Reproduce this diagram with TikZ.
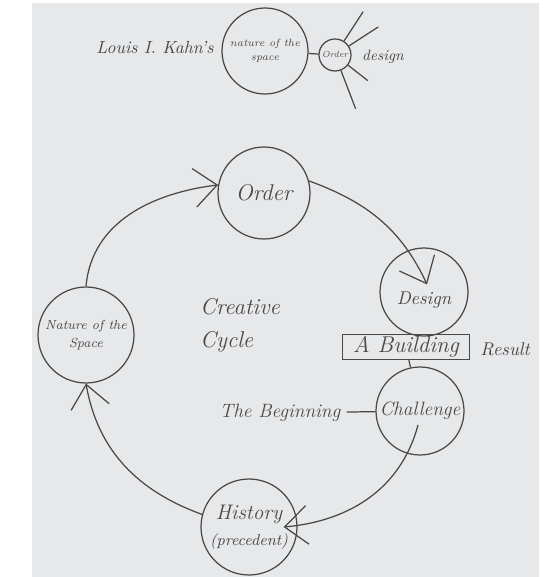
\documentclass[tikz,border=0pt]{standalone}
\usepackage{fontspec}
\usetikzlibrary{positioning, arrows.meta}
\definecolor{paper}{RGB}{231,232,234}
\definecolor{pencil}{RGB}{72,72,72}

\begin{document}
\begin{tikzpicture}[x=0.02cm, y=0.02cm,
        line width=0.7pt, draw=pencil,
        hand/.style={font={\fontsize{#1}{#1}\selectfont\itshape}, text=pencil, align=center},
        bubble/.style={circle, draw=pencil, inner sep=0pt},
        >={Straight Barb[length=13pt,width=22pt]}]
    \useasboundingbox (0,0) rectangle (545,-577);
    \fill[white] (0,0) rectangle (545,-577);
    \fill[paper] (32,-3) rectangle (539,-577);

    % Kahn's sketch at the top
    \node[hand=10] (kahn) at (155,-48) {Louis I. Kahn's};
    \node[bubble, minimum size=1.72cm, hand=6] (tnature) at (265,-51) {nature of the\\[2pt]space};
    \node[bubble, minimum size=0.64cm, hand=5] (torder) at (335,-55) {Order};
    \node[hand=8.5] (tdesign) at (383,-57) {design};
    \draw (tnature) -- (torder);
    \foreach \a/\l in {57/35, 33/35, -38/25, -69/41}
        \draw (torder.\a) -- ++(\a:\l);

    % the cycle
    \node[bubble, minimum size=1.84cm, hand=13] (order) at (264,-193) {Order};
    \node[bubble, minimum size=1.76cm, hand=10.5] (design) at (424,-292) {\\[6pt]Design};
    \node[draw=pencil, hand=13, minimum width=2.54cm, minimum height=0.5cm, inner sep=1pt] (building) at (406,-347) {A Building};
    \node[hand=10.5, anchor=west] (result) at (474,-349) {Result};
    \node[bubble, minimum size=1.76cm, hand=11] (challenge) at (420,-411) {Challenge};
    \node[hand=11] (beginning) at (280,-413) {The Beginning};
    \node[bubble, minimum size=1.92cm, hand=12] (history) at (249,-527) {History\\[3pt]{\fontsize{9}{9}\selectfont(precedent)}};
    \node[bubble, minimum size=1.92cm, hand=7.5] (nature) at (86,-335) {Nature of the\\[3pt]Space};
    \node[hand=13, align=left] (cycle) at (240,-325) {Creative\\[6pt]Cycle};

    \draw[->] (nature.north) to[out=85, in=187] (order.170);
    \draw[->] (order.15) to[out=-20, in=115] ([shift={(3,-37)}]design.north);
    \draw (building) -- (challenge);
    \draw (beginning) -- (challenge);
    \draw[->] ([shift={(-2,-14)}]challenge.center) to[out=-105, in=5] ([shift={(-14,0)}]history.east);
    \draw[->] (history.165) to[out=160, in=-80] (nature.south);
\end{tikzpicture}
\end{document}
